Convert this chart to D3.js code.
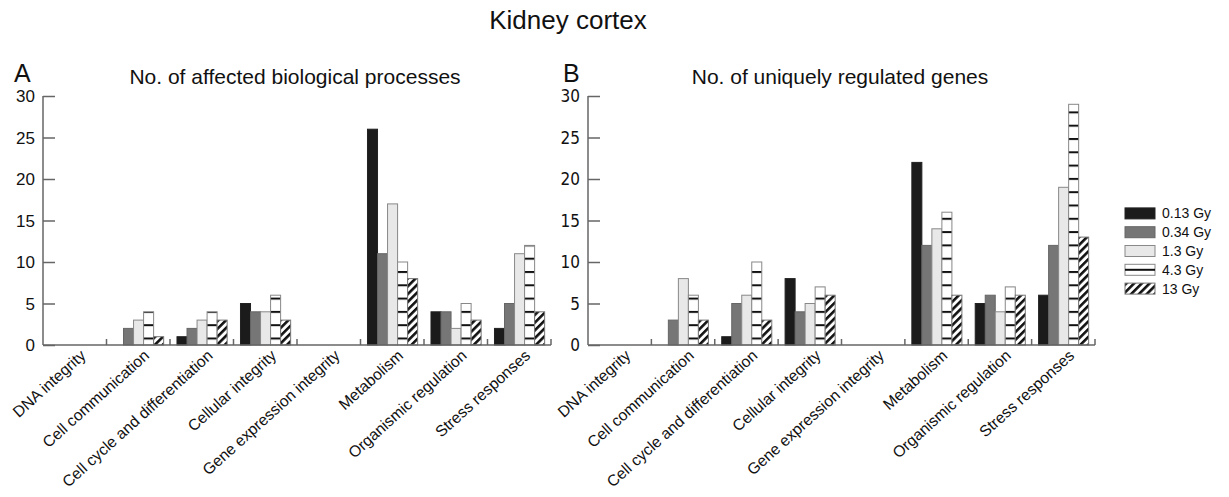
<!DOCTYPE html>
<html><head><meta charset="utf-8">
<script src="https://cdn.jsdelivr.net/npm/d3@7"></script>
<style>body{margin:0;background:#fff}svg{display:block}text{font-family:"Liberation Sans",Arial,sans-serif;fill:#111}</style>
</head><body><svg id="c" width="1229" height="497"></svg>
<script>
const categories = ["DNA integrity","Cell communication","Cell cycle and differentiation","Cellular integrity","Gene expression integrity","Metabolism","Organismic regulation","Stress responses"];
const doses = ["0.13 Gy","0.34 Gy","1.3 Gy","4.3 Gy","13 Gy"];
const yTicks = [0,5,10,15,20,25,30];
// Panel A: No. of affected biological processes (rows = categories, columns = doses)
const processesA = [
  [0,0,0,0,0],
  [0,2,3,4,1],
  [1,2,3,4,3],
  [5,4,4,6,3],
  [0,0,0,0,0],
  [26,11,17,10,8],
  [4,4,2,5,3],
  [2,5,11,12,4]
];
// Panel B: No. of uniquely regulated genes
const genesB = [
  [0,0,0,0,0],
  [0,3,8,6,3],
  [1,5,6,10,3],
  [8,4,5,7,6],
  [0,0,0,0,0],
  [22,12,14,16,6],
  [5,6,4,7,6],
  [6,12,19,29,13]
];

const svg = d3.select("#c");
const defs = svg.append("defs");
const base = 345;
const ph = defs.append("pattern").attr("id","hl").attr("patternUnits","userSpaceOnUse")
  .attr("width",20).attr("height",13.3).attr("patternTransform","translate(0,"+(base-7.5)+")");
ph.append("rect").attr("width",20).attr("height",13.3).attr("fill","#fff");
ph.append("rect").attr("y",0).attr("width",20).attr("height",2).attr("fill","#111");
const pd = defs.append("pattern").attr("id","dg").attr("patternUnits","userSpaceOnUse")
  .attr("width",5.5).attr("height",10).attr("patternTransform","rotate(45)");
pd.append("rect").attr("width",5.5).attr("height",10).attr("fill","#fff");
pd.append("rect").attr("x",0).attr("width",2.6).attr("height",10).attr("fill","#111");

const fills = ["#1b1b1b","#767676","#e8e8e8","url(#hl)","url(#dg)"];
const strokes = ["#222","#666","#888","#888","#777"];

svg.append("text").attr("x",568).attr("y",29).attr("text-anchor","middle").style("font-size","26px").text("Kidney cortex");

function panel(x0, x1, letter, lx, title, tcx, data, tickFont){
  const y = d3.scaleLinear().domain([0,30]).range([base,96]);
  const x = d3.scaleBand().domain(categories).range([x0,x1]);
  const xi = d3.scaleBand().domain(doses).range([x.bandwidth()*0.11, x.bandwidth()*0.9]);
  const g = svg.append("g");
  g.append("text").attr("x",lx).attr("y",82).style("font-size","25px").text(letter);
  g.append("text").attr("x",tcx).attr("y",84).attr("text-anchor","middle").style("font-size","21px").text(title);
  categories.forEach((c,ci)=>{
    doses.forEach((d,di)=>{
      const v = data[ci][di];
      if(v<=0) return;
      g.append("rect").attr("x",x(c)+xi(d)).attr("width",xi.bandwidth())
        .attr("y",y(v)).attr("height",base-y(v))
        .attr("fill",fills[di]).attr("stroke",strokes[di]).attr("stroke-width",1);
    });
  });
  const ya = d3.axisRight(y).tickValues(yTicks).tickSize(12).tickFormat("");
  const yg = g.append("g").attr("transform","translate("+x0+",0)").call(ya);
  yg.select(".domain").remove();
  yg.append("line").attr("x1",0).attr("x2",0).attr("y1",96).attr("y2",base).attr("stroke","#666").attr("stroke-width",1.5);
  yg.selectAll(".tick line").attr("stroke","#666").attr("stroke-width",1.5);
  yTicks.forEach(t=>{
    g.append("text").attr("x",x0-8).attr("y",y(t)+6).attr("text-anchor","end")
      .style("font-size","17px").style("font-family",tickFont).text(t);
  });
  g.append("line").attr("x1",x0).attr("x2",x1).attr("y1",base).attr("y2",base).attr("stroke","#666").attr("stroke-width",1.5);
  categories.forEach((c,ci)=>{
    const xe = x(c)+x.bandwidth();
    g.append("line").attr("x1",xe).attr("x2",xe).attr("y1",base).attr("y2",base-6).attr("stroke","#666").attr("stroke-width",1.5);
    const cx = x(c)+x.bandwidth()/2+12;
    g.append("text").attr("transform","translate("+cx+","+(base+12)+") rotate(-42)")
      .attr("text-anchor","end").style("font-size","15.7px").text(c);
  });
}
panel(43, 551, "A", 14, "No. of affected biological processes", 295, processesA, '"Liberation Sans",Arial,sans-serif');
panel(588, 1095, "B", 563, "No. of uniquely regulated genes", 840, genesB, '"DejaVu Sans Condensed","Liberation Sans",sans-serif');

const lg = svg.append("g");
const ly = d3.scaleBand().domain(doses).range([204,298]);
doses.forEach((d,di)=>{
  const yy = ly(d)+ly.bandwidth()/2;
  if(di===3){
    lg.append("rect").attr("x",1125).attr("y",yy-5.5).attr("width",30).attr("height",11).attr("fill","#fff").attr("stroke","#888");
    lg.append("line").attr("x1",1125).attr("x2",1155).attr("y1",yy).attr("y2",yy).attr("stroke","#111").attr("stroke-width",2);
  } else {
    lg.append("rect").attr("x",1125).attr("y",yy-5.5).attr("width",30).attr("height",11).attr("fill",fills[di]).attr("stroke",strokes[di]);
  }
  lg.append("text").attr("x",1162).attr("y",yy+5).style("font-size","14px").text(d);
});
</script></body></html>
